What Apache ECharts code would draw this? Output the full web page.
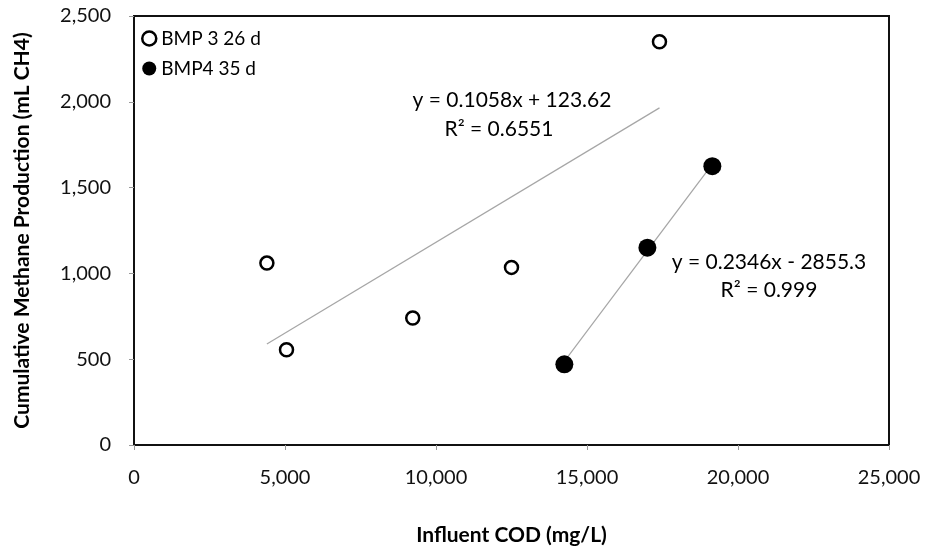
<!DOCTYPE html>
<html>
<head>
<meta charset="utf-8">
<script src="https://cdn.jsdelivr.net/npm/echarts@6/dist/echarts.min.js"></script>
<style>html,body{margin:0;padding:0;background:#fff}#c{width:925px;height:550px}</style>
</head>
<body>
<div id="c"></div>
<script>
// BMP 3 26 d (open circles)
const bmp3X = [4400, 5050, 9230, 12500, 17400];
const bmp3Y = [1060, 555, 740, 1035, 2350];
// BMP4 35 d (filled circles)
const bmp4X = [14250, 17000, 19150];
const bmp4Y = [470, 1150, 1625];
// Trendline coefficients [slope, intercept] as printed on the chart
const trend3 = [0.1058, 123.62];
const trend4 = [0.2346, -2855.3];
const trendLabels3 = ['y = 0.1058x + 123.62', 'R² = 0.6551'];
const trendLabels4 = ['y = 0.2346x - 2855.3', 'R² = 0.999'];
const xTicks = [0, 5000, 10000, 15000, 20000, 25000];
const yTicks = [0, 500, 1000, 1500, 2000, 2500];

const font = 'Lato, "Open Sans", sans-serif';
const fmt = v => Number(v).toLocaleString('en-US');
const pts = (xs, ys) => xs.map((x, i) => [x, ys[i]]);
function trendLine(xs, c) {
  const lo = Math.min(...xs), hi = Math.max(...xs);
  return [[lo, c[0] * lo + c[1]], [hi, c[0] * hi + c[1]]];
}
const eqStyle = (text) => ({ text, fontFamily: font, fontSize: 21, fill: '#000', textAlign: 'center', textVerticalAlign: 'middle' });

const chart = echarts.init(document.getElementById('c'));
chart.setOption({
  animation: false,
  grid: { left: 134, right: 36, top: 16, bottom: 105, containLabel: false, outerBoundsMode: 'none',
          show: true, borderColor: '#111', borderWidth: 2, backgroundColor: 'transparent' },
  legend: {
    left: 136, top: 24, orient: 'vertical', itemGap: 11, itemWidth: 14, itemHeight: 14, itemTextGap: 9,
    textStyle: { fontFamily: font, fontSize: 19, color: '#000' },
    data: [
      { name: 'BMP 3 26 d', icon: 'circle', itemStyle: { color: '#fff', borderColor: '#000', borderWidth: 2.5, opacity: 1 } },
      { name: 'BMP4 35 d', icon: 'circle', itemStyle: { color: '#000', opacity: 1 } }
    ]
  },
  xAxis: {
    type: 'value', min: xTicks[0], max: xTicks[xTicks.length - 1], interval: 5000,
    name: 'Influent COD (mg/L)', nameLocation: 'middle', nameGap: 80,
    nameTextStyle: { fontFamily: font, fontSize: 21, fontWeight: 'bold', color: '#000' },
    axisLine: { show: true, lineStyle: { color: '#111', width: 2 } },
    axisTick: { show: true, length: 5, lineStyle: { color: '#999' } },
    splitLine: { show: false },
    axisLabel: { formatter: fmt, fontFamily: font, fontSize: 20, color: '#111', margin: 23 }
  },
  yAxis: {
    type: 'value', min: yTicks[0], max: yTicks[yTicks.length - 1], interval: 500,
    name: 'Cumulative Methane Production (mL CH4)', nameLocation: 'middle', nameGap: 101,
    nameTextStyle: { fontFamily: font, fontSize: 21, fontWeight: 'bold', color: '#000' },
    axisLine: { show: true, lineStyle: { color: '#111', width: 2 } },
    axisTick: { show: true, length: 5, lineStyle: { color: '#999' } },
    splitLine: { show: false },
    axisLabel: { formatter: fmt, fontFamily: font, fontSize: 20, color: '#111', margin: 23 }
  },
  series: [
    {
      name: 'trend3', type: 'line', data: trendLine(bmp3X, trend3), symbol: 'none',
      lineStyle: { color: '#a6a6a6', width: 1.2 }, silent: true, z: 1
    },
    {
      name: 'trend4', type: 'line', data: trendLine(bmp4X, trend4), symbol: 'none',
      lineStyle: { color: '#a6a6a6', width: 1.2 }, silent: true, z: 1
    },
    {
      name: 'BMP 3 26 d', type: 'scatter', data: pts(bmp3X, bmp3Y), symbol: 'circle', symbolSize: 13,
      itemStyle: { color: '#fff', borderColor: '#000', borderWidth: 2.5, opacity: 1 }, z: 3
    },
    {
      name: 'BMP4 35 d', type: 'scatter', data: pts(bmp4X, bmp4Y), symbol: 'circle', symbolSize: 18,
      itemStyle: { color: '#000', opacity: 1 }, z: 3
    }
  ],
  graphic: [
    { type: 'text', x: 512, y: 100, style: eqStyle(trendLabels3[0]) },
    { type: 'text', x: 499, y: 129, style: eqStyle(trendLabels3[1]) },
    { type: 'text', x: 769, y: 262, style: eqStyle(trendLabels4[0]) },
    { type: 'text', x: 769, y: 290, style: eqStyle(trendLabels4[1]) }
  ]
});
</script>
</body>
</html>
